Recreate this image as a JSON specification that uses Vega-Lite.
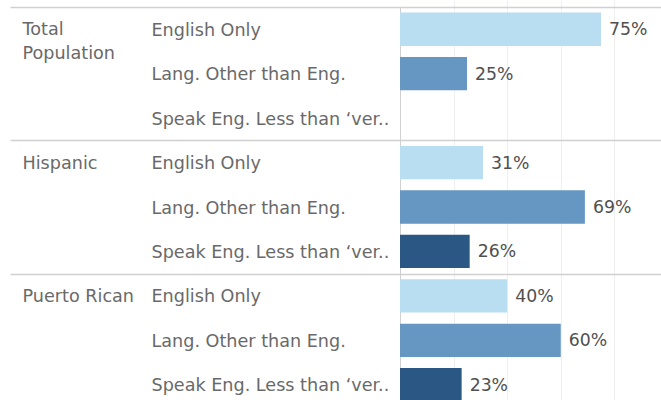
{
  "$schema": "https://vega.github.io/schema/vega-lite/v6.json",
  "autosize": {"type": "none"},
  "padding": {"left": 400, "top": 7, "right": 0, "bottom": 0},
  "width": 261,
  "height": 393,
  "background": "white",
  "config": {"view": {"stroke": null}},
  "data": {"values": [
    {"group": "Total Population", "category": "English Only", "key": "Total Population|English Only", "pct": 0.75},
    {"group": "Total Population", "category": "Lang. Other than Eng.", "key": "Total Population|Lang. Other than Eng.", "pct": 0.25},
    {"group": "Total Population", "category": "Speak Eng. Less than ‘very well’", "key": "Total Population|Speak Eng. Less than ‘very well’", "pct": null},
    {"group": "Hispanic", "category": "English Only", "key": "Hispanic|English Only", "pct": 0.31},
    {"group": "Hispanic", "category": "Lang. Other than Eng.", "key": "Hispanic|Lang. Other than Eng.", "pct": 0.69},
    {"group": "Hispanic", "category": "Speak Eng. Less than ‘very well’", "key": "Hispanic|Speak Eng. Less than ‘very well’", "pct": 0.26},
    {"group": "Puerto Rican", "category": "English Only", "key": "Puerto Rican|English Only", "pct": 0.40},
    {"group": "Puerto Rican", "category": "Lang. Other than Eng.", "key": "Puerto Rican|Lang. Other than Eng.", "pct": 0.60},
    {"group": "Puerto Rican", "category": "Speak Eng. Less than ‘very well’", "key": "Puerto Rican|Speak Eng. Less than ‘very well’", "pct": 0.23}
  ]},
  "resolve": {"axis": {"y": "independent"}},
  "layer": [
    {
      "mark": {"type": "bar", "height": {"band": 0.75}},
      "encoding": {
        "y": {
          "field": "key", "type": "nominal",
          "scale": {
            "domain": [
              "Total Population|English Only", "Total Population|Lang. Other than Eng.", "Total Population|Speak Eng. Less than ‘very well’",
              "Hispanic|English Only", "Hispanic|Lang. Other than Eng.", "Hispanic|Speak Eng. Less than ‘very well’",
              "Puerto Rican|English Only", "Puerto Rican|Lang. Other than Eng.", "Puerto Rican|Speak Eng. Less than ‘very well’"
            ],
            "range": [0, 400], "paddingInner": 0, "paddingOuter": 0
          },
          "axis": {
            "orient": "left", "title": null,
            "domain": true, "domainColor": "#d0d0d0", "domainWidth": 1,
            "ticks": true, "tickBand": "extent", "tickSize": 390, "tickColor": "#d0d0d0", "tickWidth": 1.5,
            "tickOpacity": {"condition": {"test": "datum.extra || (isString(datum.value) && indexof(datum.value, 'Speak') >= 0)", "value": 1}, "value": 0},
            "grid": true, "gridColor": "#d0d0d0", "gridWidth": 1.5,
            "gridOpacity": {"condition": {"test": "datum.extra || (isString(datum.value) && indexof(datum.value, 'Speak') >= 0)", "value": 1}, "value": 0},
            "labelAlign": "left", "labelBaseline": "middle", "labelPadding": -141, "labelOffset": 1,
            "labelOverlap": false, "labelLimit": 0,
            "labelExpr": "isString(datum.value) ? (length(split(datum.value, '|')[1]) > 26 ? slice(split(datum.value, '|')[1], 0, 25) + '..' : split(datum.value, '|')[1]) : ''",
            "labelFont": "DejaVu Sans", "labelFontSize": 17.6, "labelColor": "#696969"
          }
        },
        "x": {
          "field": "pct", "type": "quantitative",
          "scale": {"domain": [0, 0.974], "nice": false, "zero": true},
          "axis": {"title": null, "labels": false, "ticks": false, "domain": false, "grid": true, "values": [0.2, 0.4, 0.6, 0.8], "gridColor": "#efefef", "gridWidth": 1}
        },
        "color": {
          "field": "category", "type": "nominal",
          "scale": {"domain": ["English Only", "Lang. Other than Eng.", "Speak Eng. Less than ‘very well’"], "range": ["#b9ddf1", "#6696c2", "#2a5783"]},
          "legend": null
        }
      }
    },
    {
      "mark": {"type": "text", "align": "left", "baseline": "middle", "dx": 8, "dy": 1, "font": "DejaVu Sans", "fontSize": 17.3, "color": "#505050"},
      "encoding": {
        "y": {
          "field": "key", "type": "nominal",
          "axis": {
            "orient": "left", "title": null, "domain": false, "ticks": false, "grid": false,
            "labelAlign": "left", "labelBaseline": "top", "labelOffset": -8, "labelPadding": 378,
            "labelOverlap": false, "labelLimit": 0, "labelLineHeight": 24,
            "labelExpr": "isString(datum.value) && indexof(datum.value, 'English Only') >= 0 ? (indexof(datum.value, 'Total Population') == 0 ? ['Total', 'Population'] : split(datum.value, '|')[0]) : ''",
            "labelFont": "DejaVu Sans", "labelFontSize": 17.6, "labelColor": "#696969"
          }
        },
        "x": {"field": "pct", "type": "quantitative"},
        "text": {"field": "pct", "type": "quantitative", "format": ".0%"}
      }
    }
  ]
}
